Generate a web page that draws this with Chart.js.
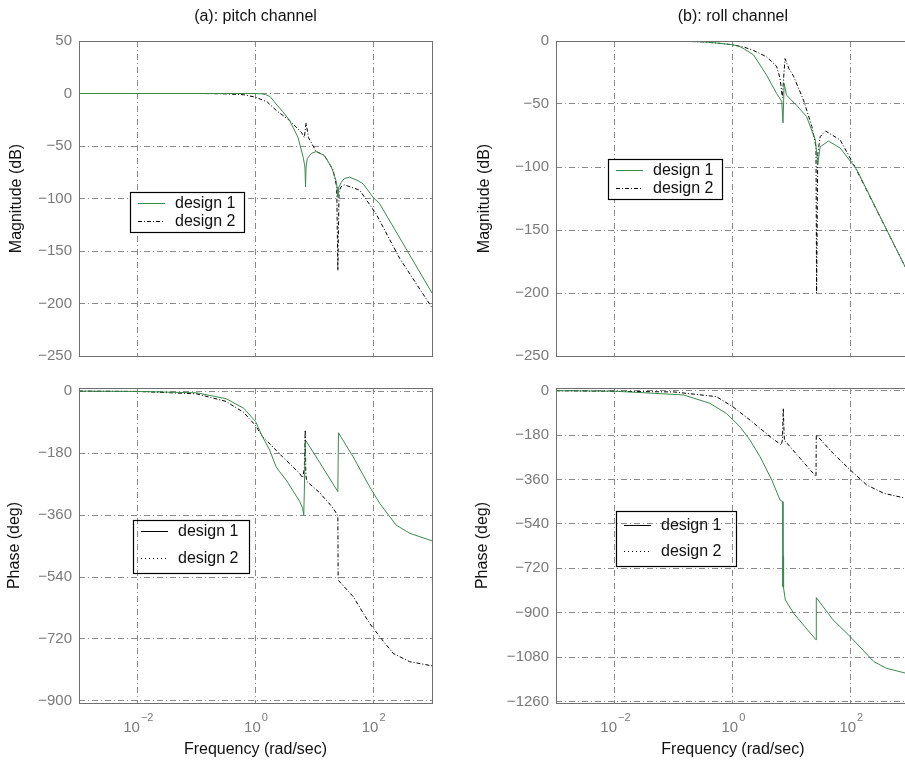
<!DOCTYPE html>
<html>
<head>
<meta charset="utf-8">
<script src="https://cdn.jsdelivr.net/npm/chart.js@4.4.0/dist/chart.umd.min.js"></script>
<style>
  body { margin: 0; background: #fff; overflow: hidden; }
  #wrap { position: relative; width: 905px; height: 762px; overflow: hidden; }
  canvas { position: absolute; }
</style>
</head>
<body>
<div id="wrap">
  <canvas id="pitchMag" width="452" height="372" style="left:0;top:0;width:452px;height:372px"></canvas>
  <canvas id="rollMag" width="478" height="372" style="left:452px;top:0;width:478px;height:372px"></canvas>
  <canvas id="pitchPhase" width="452" height="390" style="left:0;top:372px;width:452px;height:390px"></canvas>
  <canvas id="rollPhase" width="478" height="390" style="left:452px;top:372px;width:478px;height:390px"></canvas>
</div>
<script>
// Frequency in rad/sec, magnitude in dB, phase in deg

// (a) pitch channel - magnitude
const pitchMagFreq1 = [0.001, 0.3, 1.0, 1.26, 1.48, 1.78, 2.24, 2.88, 3.80, 5.25, 6.46, 6.92, 7.08, 7.24, 7.59, 8.91, 10.7, 14.8, 19.5, 23.4, 24.5, 25.1, 25.7, 28.8, 32.4, 39.8, 55.0, 67.6, 100, 129, 1000];
const pitchMagDb1   = [0, 0, 0, -0.3, -1, -3, -10, -17, -25.6, -41.5, -60.6, -70, -89, -70, -62, -57, -55.3, -59, -70, -83, -90, -98.7, -90, -84.5, -81, -79.7, -83, -86, -99, -105, -190];
const pitchMagFreq2 = [0.001, 0.1, 0.3, 0.631, 1.0, 1.58, 2.24, 3.80, 6.03, 6.76, 7.24, 7.94, 10.7, 14.8, 20.9, 24.0, 25.1, 26.3, 28.2, 32.4, 58.9, 112, 282, 1000];
const pitchMagDb2   = [0, 0, -0.3, -1.2, -3.5, -8, -16, -25.7, -37, -42, -28, -42, -55, -59, -73, -89, -168.6, -94, -89, -87, -92, -114.6, -157, -204];

// (b) roll channel - magnitude
const rollMagFreq1 = [0.001, 0.1, 0.316, 0.5, 1.0, 1.32, 1.58, 2.24, 3.72, 5.50, 6.76, 7.08, 7.41, 8.13, 12.0, 17.8, 25.1, 27.5, 30.2, 41.7, 66.1, 126, 851, 1000];
const rollMagDb1   = [0, 0, -0.7, -1.5, -3, -4.5, -6.5, -11, -27, -41.5, -48, -65, -33.6, -43, -51, -60, -78.6, -98, -84, -79.4, -85, -102, -180, -186];
const rollMagFreq2 = [0.001, 0.1, 0.316, 0.5, 1.0, 1.58, 2.24, 3.72, 5.50, 6.31, 6.92, 7.24, 7.67, 8.91, 10.7, 15.8, 21.9, 25.7, 26.3, 27.5, 30.2, 37.2, 66.1, 112, 851, 1000];
const rollMagDb2   = [0, 0, -0.7, -1.5, -3, -5, -7.5, -12.5, -20, -29.6, -45, -30, -14, -22, -28, -47, -68, -84, -200, -90, -76, -71.4, -78.6, -98, -180, -186];

// (a) pitch channel - phase
const pitchPhaseFreq1 = [0.001, 0.01, 0.1, 0.316, 0.631, 1, 1.32, 1.74, 2.24, 2.57, 3.31, 5.62, 6.31, 6.61, 6.76, 7.00, 7.24, 12.3, 25.1, 25.7, 45.7, 87.1, 129, 245, 417, 1000];
const pitchPhaseDeg1  = [0, -1, -5, -22, -50, -88, -133, -171, -220, -234, -258, -320, -340, -360, -290, -150, -145, -207, -292, -121, -191, -278, -326, -389, -413, -435];
const pitchPhaseFreq2 = [0.001, 0.01, 0.1, 0.316, 0.631, 1, 1.32, 1.51, 2.88, 5.62, 6.31, 6.76, 7.00, 7.16, 7.41, 12.3, 20.9, 25.1, 25.4, 45.7, 87.1, 129, 219, 417, 1000];
const pitchPhaseDeg2  = [0, -1, -8, -30, -62, -100, -133, -142, -191, -239, -252, -225, -113, -240, -262, -295, -340, -362, -549, -597, -675, -713, -762, -786, -798];

// (b) roll channel - phase
const rollPhaseFreq1 = [0.001, 0.01, 0.145, 0.407, 0.776, 1.32, 1.95, 2.88, 4.57, 6.31, 7.00, 7.08, 7.16, 7.24, 7.76, 10.7, 25.7, 26.0, 50.1, 97.7, 245, 398, 851, 1000];
const rollPhaseDeg1  = [0, -2, -17, -51, -92, -146, -200, -267, -362, -443, -450, -794, -673, -800, -848, -902, -1010, -839, -929, -997, -1098, -1125, -1145, -1148];
const rollPhaseFreq2 = [0.001, 0.1, 0.525, 1, 1.95, 4.27, 6.61, 6.92, 7.16, 7.33, 7.50, 7.76, 13.8, 25.7, 26.0, 50.1, 97.7, 186, 363, 851, 1000];
const rollPhaseDeg2  = [0, -5, -24, -65, -119, -186, -220, -200, -71, -150, -205, -205, -274, -348, -179, -254, -321, -382, -416, -436, -438];

// axis ticks
const freqTicks = [0.01, 1, 100];
const freqTickExponents = ['−2', '0', '2'];
const magTicksPitch = [50, 0, -50, -100, -150, -200, -250];
const magTicksRoll = [0, -50, -100, -150, -200, -250];
const phaseTicksPitch = [0, -180, -360, -540, -720, -900];
const phaseTicksRoll = [0, -180, -360, -540, -720, -900, -1080, -1260];

const seriesNames = ['design 1', 'design 2'];

const FONT = "'Liberation Sans', Arial, Helvetica, sans-serif";
const GREEN = '#3a8a4e';
const GRID = '#8a8a8a';
const TICK_TEXT = '#7a7a7a';

function toPoints(freq, vals) {
    return freq.map((w, i) => ({ x: w, y: vals[i] }));
}

function fmtTick(v) {
    return v < 0 ? '\u2212' + Math.abs(v) : String(v);
}

// draws box, titles, labels and the hand-laid legend
const decorPlugin = {
    id: 'decor',
    afterDatasetsDraw(chart, args, o) {
        const ctx = chart.ctx;
        const a = chart.chartArea;
        ctx.save();

        // axes box
        ctx.strokeStyle = '#6f6f6f';
        ctx.lineWidth = 1;
        ctx.strokeRect(Math.round(a.left) + 0.5, Math.round(a.top) + 0.5,
            Math.round(a.right - a.left), Math.round(a.bottom - a.top));

        ctx.fillStyle = '#111';
        ctx.textAlign = 'center';
        ctx.textBaseline = 'middle';

        if (o.title) {
            ctx.font = '16px ' + FONT;
            ctx.fillText(o.title, (a.left + a.right) / 2, a.top - 24);
        }

        // y axis label
        ctx.save();
        ctx.translate(a.left - o.yLabelGap, (a.top + a.bottom) / 2);
        ctx.rotate(-Math.PI / 2);
        ctx.font = '16px ' + FONT;
        ctx.fillText(o.yLabel, 0, 0);
        ctx.restore();

        // frequency axis labels 10^n
        if (o.showFreq) {
            const xs = chart.scales.x;
            ctx.fillStyle = TICK_TEXT;
            ctx.textBaseline = 'alphabetic';
            ctx.textAlign = 'left';
            freqTicks.forEach((v, i) => {
                const px = xs.getPixelForValue(v);
                ctx.font = '15px ' + FONT;
                const wBase = ctx.measureText('10').width;
                ctx.font = '11px ' + FONT;
                const wExp = ctx.measureText(freqTickExponents[i]).width;
                const x0 = px - (wBase + wExp) / 2;
                ctx.font = '15px ' + FONT;
                ctx.fillText('10', x0, a.bottom + 29);
                ctx.font = '11px ' + FONT;
                ctx.fillText(freqTickExponents[i], x0 + wBase + 1, a.bottom + 18);
            });
            ctx.fillStyle = '#111';
            ctx.textAlign = 'center';
            ctx.textBaseline = 'middle';
            ctx.font = '16px ' + FONT;
            ctx.fillText('Frequency (rad/sec)', (a.left + a.right) / 2, a.bottom + 47);
        }

        // legend
        const lg = o.legend;
        if (lg) {
            const [bx, by, bw, bh] = lg.box;
            if (lg.fill) {
                ctx.fillStyle = '#fff';
                ctx.fillRect(bx, by, bw, bh);
            }
            ctx.strokeStyle = '#000';
            ctx.lineWidth = 1.2;
            ctx.strokeRect(bx + 0.5, by + 0.5, bw, bh);
            lg.rows.forEach((ry, i) => {
                const s = lg.samples[i];
                ctx.beginPath();
                ctx.strokeStyle = s.color;
                ctx.lineWidth = 1;
                ctx.setLineDash(s.dash);
                ctx.moveTo(bx + 8, ry + 0.5);
                ctx.lineTo(bx + 35, ry + 0.5);
                ctx.stroke();
                ctx.setLineDash([]);
                ctx.fillStyle = '#111';
                ctx.textAlign = 'left';
                ctx.textBaseline = 'middle';
                ctx.font = '16px ' + FONT;
                ctx.fillText(seriesNames[i], bx + 45, ry + 1);
            });
        }
        ctx.restore();
    }
};

const solidGreen = { color: GREEN, dash: [] };
const dashDot = { color: '#000', dash: [4, 2, 1, 2] };
const solidBlack = { color: '#000', dash: [] };
const dotted = { color: '#000', dash: [1, 3] };

function makePanel(id, cfg) {
    const ctx = document.getElementById(id).getContext('2d');
    return new Chart(ctx, {
        type: 'line',
        data: {
            datasets: [
                {
                    label: seriesNames[0],
                    data: toPoints(cfg.freq1, cfg.vals1),
                    borderColor: GREEN,
                    borderWidth: 1,
                    pointRadius: 0,
                    tension: 0,
                    fill: false
                },
                {
                    label: seriesNames[1],
                    data: toPoints(cfg.freq2, cfg.vals2),
                    borderColor: '#000',
                    borderWidth: 1,
                    borderDash: [4, 2, 1, 2],
                    pointRadius: 0,
                    tension: 0,
                    fill: false
                }
            ]
        },
        options: {
            responsive: false,
            animation: false,
            layout: { padding: cfg.padding },
            scales: {
                x: {
                    type: 'logarithmic',
                    min: 0.001,
                    max: 1000,
                    afterBuildTicks: s => { s.ticks = freqTicks.map(v => ({ value: v })); },
                    afterFit: s => { s.height = 0; },
                    ticks: { display: false },
                    grid: { color: GRID, lineWidth: 1, drawTicks: false },
                    border: { display: false, dash: [6, 3, 1, 3] }
                },
                y: {
                    min: cfg.yMin,
                    max: cfg.yMax,
                    afterBuildTicks: s => { s.ticks = cfg.yTicks.map(v => ({ value: v })); },
                    afterFit: s => { s.width = cfg.yAxisWidth; },
                    ticks: {
                        color: TICK_TEXT,
                        padding: 7,
                        font: { family: FONT, size: 15 },
                        callback: v => fmtTick(v)
                    },
                    grid: { color: GRID, lineWidth: 1, drawTicks: false },
                    border: { display: false, dash: [6, 3, 1, 3] }
                }
            },
            plugins: {
                legend: { display: false },
                tooltip: { enabled: false },
                decor: {
                    title: cfg.title,
                    yLabel: cfg.yLabel,
                    yLabelGap: cfg.yLabelGap,
                    showFreq: cfg.showFreq,
                    legend: cfg.legend
                }
            }
        },
        plugins: [decorPlugin]
    });
}

makePanel('pitchMag', {
    freq1: pitchMagFreq1, vals1: pitchMagDb1,
    freq2: pitchMagFreq2, vals2: pitchMagDb2,
    yMin: -250, yMax: 50, yTicks: magTicksPitch,
    padding: { left: 0, top: 41, right: 20, bottom: 16 },
    yAxisWidth: 79,
    title: '(a): pitch channel',
    yLabel: 'Magnitude (dB)', yLabelGap: 62,
    showFreq: false,
    legend: { box: [130, 192, 114, 40], fill: true, rows: [203, 221], samples: [solidGreen, dashDot] }
});

makePanel('rollMag', {
    freq1: rollMagFreq1, vals1: rollMagDb1,
    freq2: rollMagFreq2, vals2: rollMagDb2,
    yMin: -250, yMax: 0, yTicks: magTicksRoll,
    padding: { left: 0, top: 41, right: 20.25, bottom: 16 },
    yAxisWidth: 104,
    title: '(b): roll channel',
    yLabel: 'Magnitude (dB)', yLabelGap: 71,
    showFreq: false,
    legend: { box: [156, 159, 114, 40], fill: true, rows: [170, 188], samples: [solidGreen, dashDot] }
});

makePanel('pitchPhase', {
    freq1: pitchPhaseFreq1, vals1: pitchPhaseDeg1,
    freq2: pitchPhaseFreq2, vals2: pitchPhaseDeg2,
    yMin: -906, yMax: 9, yTicks: phaseTicksPitch,
    padding: { left: 0, top: 16, right: 20, bottom: 59 },
    yAxisWidth: 79,
    yLabel: 'Phase (deg)', yLabelGap: 64,
    showFreq: true,
    legend: { box: [133, 148, 116, 53], fill: false, rows: [159, 186], samples: [solidBlack, dotted] }
});

makePanel('rollPhase', {
    freq1: rollPhaseFreq1, vals1: rollPhaseDeg1,
    freq2: rollPhaseFreq2, vals2: rollPhaseDeg2,
    yMin: -1266, yMax: 11, yTicks: phaseTicksRoll,
    padding: { left: 0, top: 16, right: 20.25, bottom: 59 },
    yAxisWidth: 104,
    yLabel: 'Phase (deg)', yLabelGap: 73,
    showFreq: true,
    legend: { box: [164, 139, 120, 55], fill: false, rows: [153, 179], samples: [solidBlack, dotted] }
});
</script>
</body>
</html>
